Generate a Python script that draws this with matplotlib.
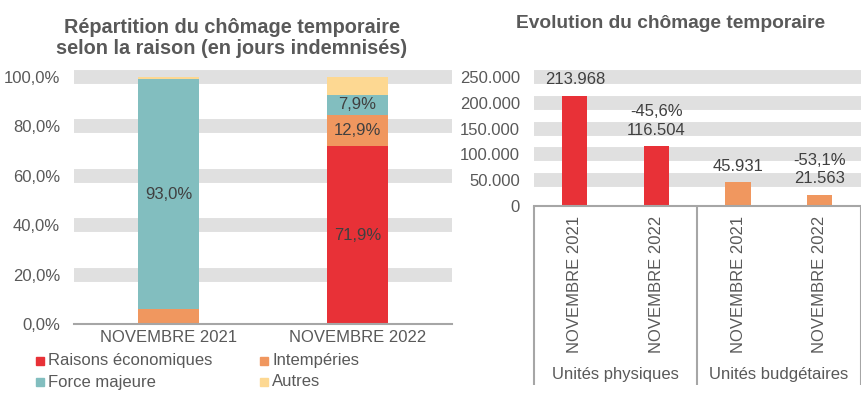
import matplotlib
matplotlib.use("Agg")
import matplotlib.pyplot as plt
from matplotlib.patches import Rectangle
import numpy as np

plt.rcParams['font.family'] = ['Liberation Sans', 'DejaVu Sans']

# ---------------- data ----------------
months = ["NOVEMBRE 2021", "NOVEMBRE 2022"]
reasons = ["Raisons économiques", "Intempéries", "Force majeure", "Autres"]
share_raisons = [0.4, 71.9]
share_intemperies = [5.6, 12.9]
share_force = [93.0, 7.9]
share_autres = [1.0, 7.3]
show_label = [[False, True], [False, True], [True, True], [False, False]]

groups = ["Unités physiques", "Unités budgétaires"]
evo_values = [213968, 116504, 45931, 21563]
evo_months = ["NOVEMBRE 2021", "NOVEMBRE 2022", "NOVEMBRE 2021", "NOVEMBRE 2022"]

colors = ["#E83137", "#F0975F", "#82BEBF", "#FDD892"]
txt = "#595959"
lbl = "#404040"
band = "#E0E0E0"
axis_c = "#A6A6A6"
FS = 12

W, H = 861, 394
fig = plt.figure(figsize=(W / 100, H / 100), dpi=100)

def fx(px):
    return px / W

def fy(py):
    return 1 - py / H

# ---------------- left chart ----------------
L0, L1, T0, B0 = 74, 452, 77, 324
axL = fig.add_axes([fx(L0), fy(B0), fx(L1 - L0), (B0 - T0) / H])
axL.set_xlim(-0.5, 1.5)
axL.set_ylim(0, 1.0)
for v in [0.2, 0.4, 0.6, 0.8, 1.0]:
    axL.axhline(v, color=band, lw=10, zorder=0, clip_on=False, solid_capstyle='butt')
x = np.arange(len(months))
series = [share_raisons, share_intemperies, share_force, share_autres]
bottom = np.zeros(len(months))
for i, s in enumerate(series):
    vals = np.array(s) / 100
    axL.bar(x, vals, width=0.32, bottom=bottom, color=colors[i], zorder=2)
    for j in range(len(months)):
        if show_label[i][j]:
            axL.text(x[j], bottom[j] + vals[j] / 2, f"{s[j]:.1f}%".replace('.', ','),
                     ha='center', va='center', fontsize=FS, color=lbl, zorder=3)
    bottom += vals
yt = [0, 0.2, 0.4, 0.6, 0.8, 1.0]
axL.set_yticks(yt)
axL.set_yticklabels([f"{v*100:.1f}%".replace('.', ',') for v in yt], fontsize=FS, color=txt)
axL.set_xticks(x)
axL.set_xticklabels(months, fontsize=FS, color=txt)
axL.tick_params(axis='both', length=0)
axL.tick_params(axis='y', pad=10)
axL.tick_params(axis='x', pad=4)
for sp in ['top', 'right', 'left']:
    axL.spines[sp].set_visible(False)
axL.spines['bottom'].set_color(axis_c)
axL.spines['bottom'].set_linewidth(1.5)
axL.spines['bottom'].set_zorder(4)

# legend (manual placement)
leg_pos = [(36, 361), (260, 361), (36, 382), (260, 382)]
for (px, py), name, c in zip(leg_pos, reasons, colors):
    fig.patches.append(Rectangle((fx(px), fy(py + 4)), fx(8), 8 / H, color=c,
                                 transform=fig.transFigure, figure=fig))
    fig.text(fx(px + 12), fy(py), name, fontsize=FS, color=txt, ha='left', va='center')

fig.text(fx(232), fy(38), "Répartition du chômage temporaire\nselon la raison (en jours indemnisés)",
         ha='center', va='center', fontsize=14.3, fontweight='bold', color=txt, linespacing=1.1)

# ---------------- right chart ----------------
R0, R1, RT, RB = 534, 860.5, 77.3, 205.7
axR = fig.add_axes([fx(R0), fy(RB), fx(R1 - R0), (RB - RT) / H])
axR.set_xlim(-0.5, 3.5)
axR.set_ylim(0, 250000)
for v in [50000, 100000, 150000, 200000, 250000]:
    axR.axhline(v, color=band, lw=10, zorder=0, clip_on=False, solid_capstyle='butt')
xr = np.arange(len(evo_values))
bar_cols = [colors[0], colors[0], colors[1], colors[1]]
axR.bar(xr, evo_values, width=0.31, color=bar_cols, zorder=2)
for j, v in enumerate(evo_values):
    s = f"{v:,}".replace(',', '.')
    if j % 2 == 1:
        pct = (v / evo_values[j - 1] - 1) * 100
        s = f"{pct:.1f}%".replace('.', ',') + "\n" + s
    axR.annotate(s, (xr[j], v), xytext=(0, 6), textcoords='offset points',
                 ha='center', va='bottom', fontsize=FS, color=lbl, linespacing=1.3, zorder=3)
ytr = [0, 50000, 100000, 150000, 200000, 250000]
axR.set_yticks(ytr)
axR.set_yticklabels([f"{v:,}".replace(',', '.') for v in ytr], fontsize=FS, color=txt)
axR.set_xticks([])
axR.tick_params(axis='y', length=0, pad=10)
for sp in ['top', 'right', 'left']:
    axR.spines[sp].set_visible(False)
axR.spines['bottom'].set_color(axis_c)
axR.spines['bottom'].set_linewidth(1.5)
axR.spines['bottom'].set_zorder(4)

tr = axR.get_xaxis_transform()
ybot = (RB - 385) / (RB - RT)
for sx in [-0.5, 1.5, 3.5]:
    axR.plot([sx, sx], [0, ybot], transform=tr, color=axis_c, lw=1.5, clip_on=False,
             solid_capstyle='butt')
ytop = (RB - 216) / (RB - RT)
for j, m in enumerate(evo_months):
    axR.text(xr[j], ytop, m, transform=tr, rotation=90, ha='center', va='top',
             fontsize=FS, color=txt)
yg = (RB - 374) / (RB - RT)
for g, name in enumerate(groups):
    axR.text(2 * g + 0.5, yg, name, transform=tr, ha='center', va='center',
             fontsize=FS, color=txt)

fig.text(fx(671), fy(23), "Evolution du chômage temporaire", ha='center', va='center',
         fontsize=13.8, fontweight='bold', color=txt)

fig.savefig("out.png", dpi=100)
